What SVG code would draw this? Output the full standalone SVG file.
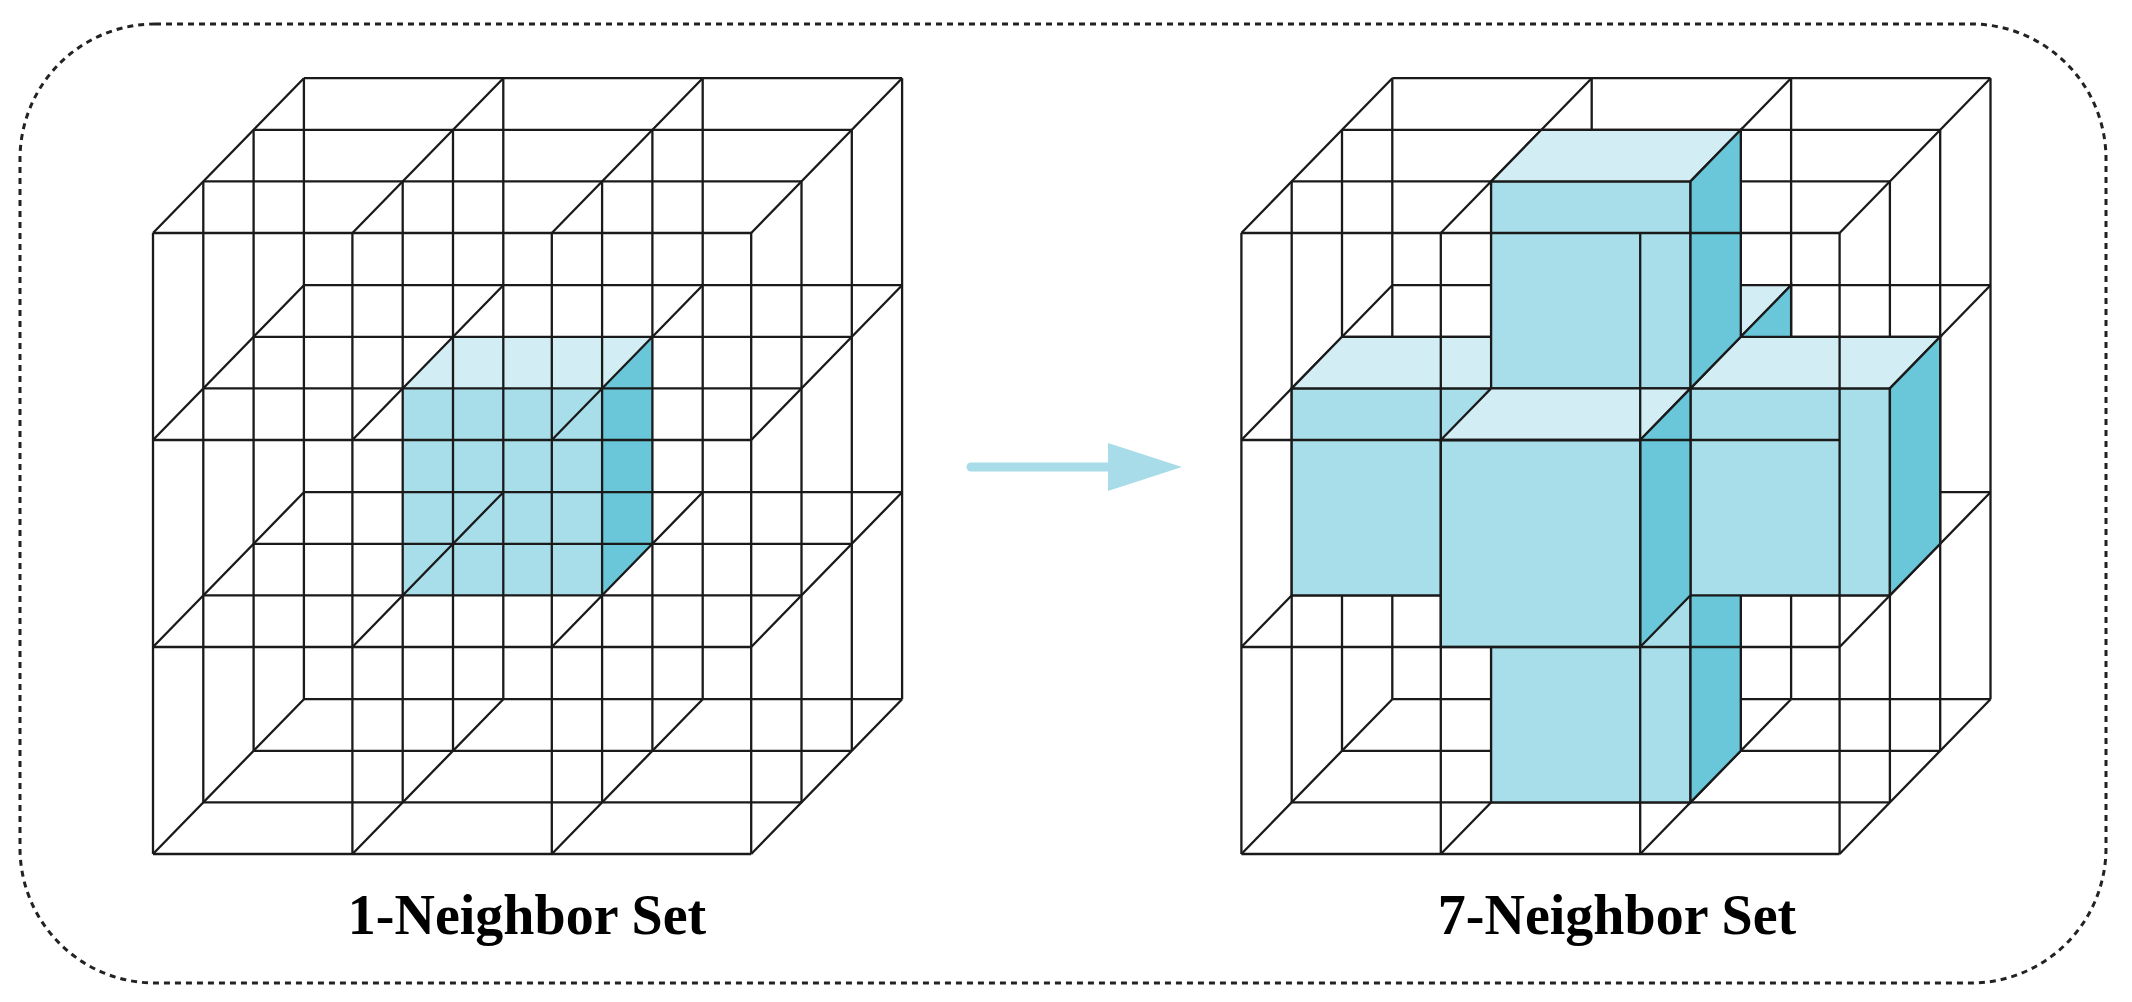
<svg xmlns="http://www.w3.org/2000/svg" xmlns:xlink="http://www.w3.org/1999/xlink" width="2132" height="1002" viewBox="0 0 2132 1002">
<style>
.ln{fill:none;stroke:#1a1a1a;stroke-width:2.3}
.fr{fill:#a8dee9;stroke:#1a1a1a;stroke-width:2.3}
.tp{fill:#d2edf3;stroke:#1a1a1a;stroke-width:2.3}
.rt{fill:#69c7d9;stroke:#1a1a1a;stroke-width:2.3}
.nf{stroke:none}
.lbl{font-family:"Liberation Serif",serif;font-weight:bold;font-size:56px;fill:#000;text-anchor:middle}
</style>
<defs>
<path id="grid" class="ln" d="M0 0V621M199.4 0V621M398.8 0V621M598.2 0V621M0 0H598.2M0 207H598.2M0 414H598.2M0 621H598.2"/>
<path id="diag" class="ln" d="M0 0l150.9 -154.8M199.4 0l150.9 -154.8M398.8 0l150.9 -154.8M598.2 0l150.9 -154.8M0 207l150.9 -154.8M199.4 207l150.9 -154.8M398.8 207l150.9 -154.8M598.2 207l150.9 -154.8M0 414l150.9 -154.8M199.4 414l150.9 -154.8M398.8 414l150.9 -154.8M598.2 414l150.9 -154.8M0 621l150.9 -154.8M199.4 621l150.9 -154.8M398.8 621l150.9 -154.8M598.2 621l150.9 -154.8"/>
<g id="lattice">
<use xlink:href="#grid" transform="translate(150.9,-154.8)"/>
<use xlink:href="#grid" transform="translate(100.6,-103.2)"/>
<use xlink:href="#grid" transform="translate(50.3,-51.6)"/>
<use xlink:href="#diag"/>
</g>
</defs>
<rect x="20" y="24" width="2086" height="959" rx="135" fill="none" stroke="#222" stroke-width="3" stroke-dasharray="6,5"/>
<g id="left-cube" transform="translate(153,233)">
<g class="nf">
<rect class="fr nf" x="249.7" y="155.4" width="199.4" height="207"/>
<polygon class="tp nf" points="249.7,155.4 449.1,155.4 499.4,103.8 300,103.8"/>
<polygon class="rt nf" points="449.1,155.4 499.4,103.8 499.4,310.8 449.1,362.4"/>
</g>
<use xlink:href="#lattice"/>
<use xlink:href="#grid"/>
</g>
<g id="right-cube" transform="translate(1241.4,233)">
<use xlink:href="#lattice"/>
<g id="c112"><rect class="fr" x="300" y="103.8" width="199.4" height="207"/><polygon class="tp" points="300,103.8 499.4,103.8 549.7,52.2 350.3,52.2"/><polygon class="rt" points="499.4,103.8 549.7,52.2 549.7,259.2 499.4,310.8"/></g>
<g id="c121"><rect class="fr" x="249.7" y="362.4" width="199.4" height="207"/><polygon class="tp" points="249.7,362.4 449.1,362.4 499.4,310.8 300,310.8"/><polygon class="rt" points="449.1,362.4 499.4,310.8 499.4,517.8 449.1,569.4"/></g>
<g id="c011"><rect class="fr" x="50.3" y="155.4" width="199.4" height="207"/><polygon class="tp" points="50.3,155.4 249.7,155.4 300,103.8 100.6,103.8"/><polygon class="rt" points="249.7,155.4 300,103.8 300,310.8 249.7,362.4"/></g>
<g id="c111"><rect class="fr" x="249.7" y="155.4" width="199.4" height="207"/><polygon class="tp" points="249.7,155.4 449.1,155.4 499.4,103.8 300,103.8"/><polygon class="rt" points="449.1,155.4 499.4,103.8 499.4,310.8 449.1,362.4"/></g>
<g id="c211"><rect class="fr" x="449.1" y="155.4" width="199.4" height="207"/><polygon class="tp" points="449.1,155.4 648.5,155.4 698.8,103.8 499.4,103.8"/><polygon class="rt" points="648.5,155.4 698.8,103.8 698.8,310.8 648.5,362.4"/></g>
<g id="c101"><rect class="fr" x="249.7" y="-51.6" width="199.4" height="207"/><polygon class="tp" points="249.7,-51.6 449.1,-51.6 499.4,-103.2 300,-103.2"/><polygon class="rt" points="449.1,-51.6 499.4,-103.2 499.4,103.8 449.1,155.4"/></g>
<g id="c110"><rect class="fr" x="199.4" y="207" width="199.4" height="207"/><polygon class="tp" points="199.4,207 398.8,207 449.1,155.4 249.7,155.4"/><polygon class="rt" points="398.8,207 449.1,155.4 449.1,362.4 398.8,414"/></g>
<use xlink:href="#grid"/>
</g>
<g id="connectors">
<line x1="971" y1="467" x2="1110" y2="467" stroke="#a8dce8" stroke-width="9" stroke-linecap="round"/>
<polygon points="1108,443 1182,467 1108,491" fill="#a8dce8"/>
</g>
<text class="lbl" x="527" y="934">1-Neighbor Set</text>
<text class="lbl" x="1617" y="934">7-Neighbor Set</text>
</svg>
